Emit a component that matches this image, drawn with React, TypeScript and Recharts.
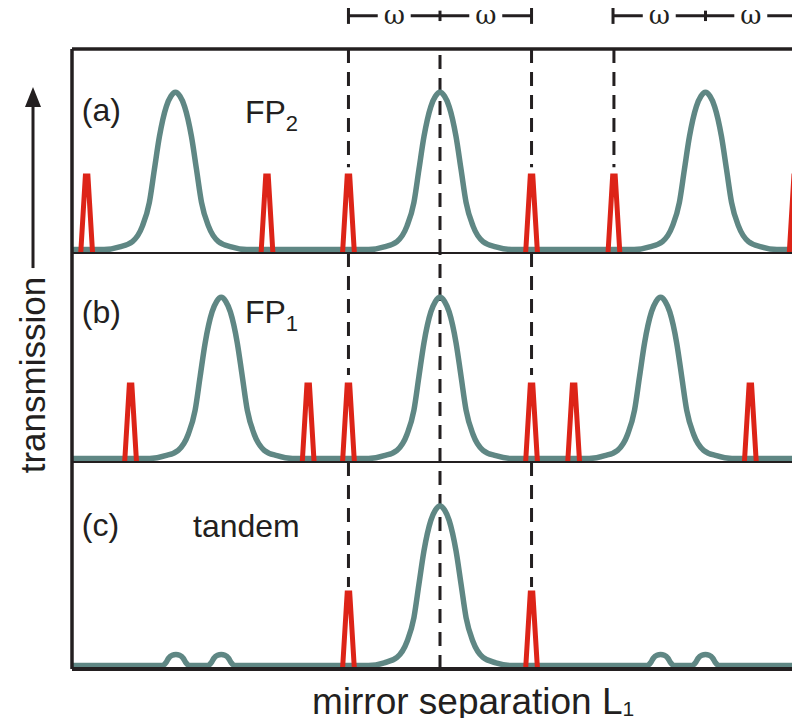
import React from 'react';
import { LineChart, Line, XAxis, YAxis, ReferenceLine, ReferenceDot } from 'recharts';

// x is the mirror separation in units of ω, 0 = the common fringe
const X_MIN = -4.02;
const X_MAX = 4.02;
const BASE = 0.017;

// fringe centres
const fp2Peaks = [-2.89, 0, 2.9];
const fp1Peaks = [-2.39, 0, 2.41];
const tandemPeaks = [0];
const tandemGhosts = [-2.885, -2.39, 2.41, 2.9];

// narrow (red) line centres
const fp2Lines = [-3.86, -1.89, -1.0, 1.0, 1.9, 3.88];
const fp1Lines = [-3.38, -1.44, -1.0, 1.0, 1.46, 3.39];
const tandemLines = [-1.0, 1.0];
const fp2LineTop = 0.377;
const fp1LineTop = 0.368;
const tandemLineTop = 0.367;

// one transmission fringe, offset from its centre vs. transmission
const fringeShape = [
  [-0.78, 0.017], [-0.61, 0.03], [-0.47, 0.056], [-0.36, 0.133], [-0.285, 0.248],
  [-0.23, 0.41], [-0.175, 0.571], [-0.1, 0.718], [-0.05, 0.768], [0, 0.788],
  [0.05, 0.768], [0.1, 0.718], [0.175, 0.571], [0.23, 0.41], [0.285, 0.248],
  [0.36, 0.133], [0.47, 0.056], [0.61, 0.03], [0.78, 0.017],
];

// small leftover bumps of the tandem trace
const ghostShape = [
  [-0.15, 0.017], [-0.11, 0.03], [-0.08, 0.052], [-0.04, 0.066], [0, 0.07],
  [0.04, 0.066], [0.08, 0.052], [0.11, 0.03], [0.15, 0.017],
];

// dashed markers and the ω brackets above panel (a)
const markersA = [-1, 1, 1.9, 3.89];
const markersBC = [-1, 1];
const omegaSpans = [[-1, 0], [0, 1], [1.89, 2.9], [2.9, 3.89]];

type Pt = { x: number; y: number | null };

const place = (centres: number[], shape: number[][]): Pt[] =>
  centres.flatMap((c) => shape.map(([dx, y]) => ({ x: c + dx, y })));

const trace = (...parts: Pt[][]): Pt[] =>
  [{ x: X_MIN, y: BASE }, ...parts.flat(), { x: X_MAX, y: BASE }].sort((a, b) => a.x - b.x);

const spikes = (centres: number[], top: number): Pt[] =>
  centres.flatMap((c) => [
    { x: c - 0.064, y: 0.004 },
    { x: c - 0.014, y: top },
    { x: c + 0.014, y: top },
    { x: c + 0.064, y: 0.004 },
    { x: c + 0.065, y: null },
  ]);

const fp2Trace = trace(place(fp2Peaks, fringeShape));
const fp1Trace = trace(place(fp1Peaks, fringeShape));
const tandemTrace = trace(place(tandemPeaks, fringeShape), place(tandemGhosts, ghostShape));

const INK = '#231f20';
const TEAL = '#5f8784';
const RED = '#dd2418';
const FONT = '"Liberation Sans", Arial, sans-serif';
const W = 820;
const H = 726;
const DASH = { stroke: INK, strokeWidth: 3, strokeDasharray: '14 9' };

const tag = (text: string, sub?: string) => (p: any) => (
  <text x={p.viewBox.x} y={p.viewBox.y} fill={INK} fontFamily={FONT} fontSize={32}>
    {text}
    {sub && (
      <tspan fontSize={22} dy={8}>
        {sub}
      </tspan>
    )}
  </text>
);

const omegaLabel = (p: any) => (
  <text
    x={p.viewBox.x}
    y={p.viewBox.y + 8}
    textAnchor="middle"
    fill={INK}
    fontFamily='"DejaVu Serif", "Liberation Serif", serif'
    fontSize={26}
  >
    ω
  </text>
);

const yTitle = (p: any) => {
  const cx = p.viewBox.x;
  const cy = p.viewBox.y;
  return (
    <g>
      <text
        x={cx}
        y={cy}
        transform={`rotate(-90 ${cx} ${cy})`}
        textAnchor="middle"
        dominantBaseline="central"
        fill={INK}
        fontFamily={FONT}
        fontSize={35}
      >
        transmission
      </text>
      <line x1={cx} y1={cy - 107} x2={cx} y2={cy - 272} stroke={INK} strokeWidth={3} />
      <path d={`M${cx - 8},${cy - 268} L${cx},${cy - 288} L${cx + 8},${cy - 268} Z`} fill={INK} />
    </g>
  );
};

const xTitle = (p: any) => (
  <text x={p.viewBox.x + 240} y={p.viewBox.y + 45} fill={INK} fontFamily={FONT} fontSize={37}>
    mirror separation L
    <tspan fontSize={21} dy={2}>
      1
    </tspan>
  </text>
);

const yAxis = (
  <YAxis
    type="number"
    domain={[0, 1]}
    allowDataOverflow
    width={60}
    tick={false}
    tickLine={false}
    axisLine={{ stroke: INK, strokeWidth: 3.5 }}
  />
);

const hiddenX = (
  <XAxis
    dataKey="x"
    type="number"
    domain={[X_MIN, X_MAX]}
    allowDataOverflow
    height={30}
    tick={false}
    tickLine={false}
    axisLine={{ stroke: INK, strokeWidth: 2.2 }}
  />
);

const series = (teal: Pt[], red: Pt[]) => [
  <Line
    key="teal"
    data={teal}
    dataKey="y"
    type="monotone"
    stroke={TEAL}
    strokeWidth={5.5}
    dot={false}
    activeDot={false}
    isAnimationActive={false}
  />,
  <Line
    key="red"
    data={red}
    dataKey="y"
    type="linear"
    stroke={RED}
    strokeWidth={5}
    dot={false}
    activeDot={false}
    connectNulls={false}
    isAnimationActive={false}
  />,
];

const layer: React.CSSProperties = { position: 'absolute', left: 0, top: 0 };

export default function App() {
  return (
    <div style={{ position: 'relative', width: 800, height: H, overflow: 'hidden', margin: -8, background: '#fff' }}>
      {/* (a) FP2 */}
      <div style={layer}>
        <LineChart width={W} height={H} margin={{ top: 49, right: 12, bottom: 443, left: 12 }}>
          {hiddenX}
          {yAxis}
          <ReferenceLine y={1} stroke={INK} strokeWidth={3.5} />
          <ReferenceLine x={0} {...DASH} />
          {markersA.map((m) => (
            <ReferenceLine key={m} segment={[{ x: m, y: 1 }, { x: m, y: 0.42 }]} {...DASH} />
          ))}
          {omegaSpans.map(([a, b]) => {
            const mid = (a + b) / 2;
            return [
              <ReferenceLine key={`l${a}`} ifOverflow="visible" segment={[{ x: a, y: 1.163 }, { x: mid - 0.18, y: 1.163 }]} stroke={INK} strokeWidth={3} />,
              <ReferenceLine key={`r${a}`} ifOverflow="visible" segment={[{ x: mid + 0.18, y: 1.163 }, { x: b, y: 1.163 }]} stroke={INK} strokeWidth={3} />,
              <ReferenceDot key={`w${a}`} x={mid} y={1.163} r={0} fill="none" stroke="none" ifOverflow="visible" label={omegaLabel} />,
            ];
          })}
          {[-1, 1, 1.89, 3.89].map((t) => (
            <ReferenceLine key={`t${t}`} ifOverflow="visible" segment={[{ x: t, y: 1.201 }, { x: t, y: 1.123 }]} stroke={INK} strokeWidth={3} />
          ))}
          {[0, 2.9].map((t) => (
            <ReferenceLine key={`c${t}`} ifOverflow="visible" segment={[{ x: t, y: 1.188 }, { x: t, y: 1.137 }]} stroke={INK} strokeWidth={3} />
          ))}
          {series(fp2Trace, spikes(fp2Lines, fp2LineTop))}
          <ReferenceDot x={-3.913} y={0.647} r={0} fill="none" stroke="none" label={tag('(a)')} />
          <ReferenceDot x={-2.131} y={0.637} r={0} fill="none" stroke="none" label={tag('FP', '2')} />
        </LineChart>
      </div>

      {/* (b) FP1 */}
      <div style={layer}>
        <LineChart width={W} height={H} margin={{ top: 253, right: 12, bottom: 234, left: 12 }}>
          {hiddenX}
          {yAxis}
          <ReferenceLine x={0} {...DASH} />
          {markersBC.map((m) => (
            <ReferenceLine key={m} segment={[{ x: m, y: 1 }, { x: m, y: 0.416 }]} {...DASH} />
          ))}
          {series(fp1Trace, spikes(fp1Lines, fp1LineTop))}
          <ReferenceDot x={-3.913} y={0.665} r={0} fill="none" stroke="none" label={tag('(b)')} />
          <ReferenceDot x={-2.131} y={0.665} r={0} fill="none" stroke="none" label={tag('FP', '1')} />
          <ReferenceDot x={-4.446} y={0.416} r={0} fill="none" stroke="none" ifOverflow="visible" label={yTitle} />
        </LineChart>
      </div>

      {/* (c) tandem */}
      <div style={layer}>
        <LineChart width={W} height={H} margin={{ top: 462, right: 12, bottom: 0, left: 12 }}>
          <XAxis
            dataKey="x"
            type="number"
            domain={[X_MIN, X_MAX]}
            allowDataOverflow
            ticks={[0]}
            tick={false}
            tickSize={7}
            tickLine={{ stroke: INK, strokeWidth: 2.5 }}
            axisLine={{ stroke: INK, strokeWidth: 4 }}
            height={57}
            label={xTitle}
          />
          {yAxis}
          <ReferenceLine x={0} {...DASH} />
          {markersBC.map((m) => (
            <ReferenceLine key={m} segment={[{ x: m, y: 1 }, { x: m, y: 0.396 }]} {...DASH} />
          ))}
          {series(tandemTrace, spikes(tandemLines, tandemLineTop))}
          <ReferenceDot x={-3.913} y={0.643} r={0} fill="none" stroke="none" label={tag('(c)')} />
          <ReferenceDot x={-2.698} y={0.638} r={0} fill="none" stroke="none" label={tag('tandem')} />
        </LineChart>
      </div>
    </div>
  );
}
